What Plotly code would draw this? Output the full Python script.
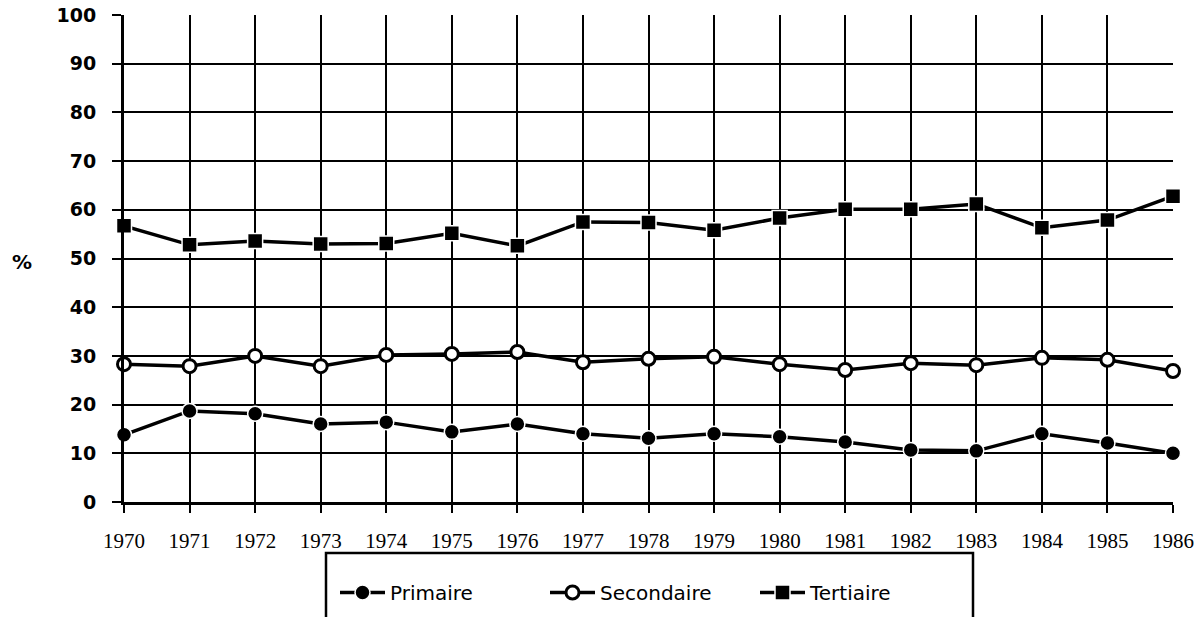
import plotly.graph_objects as go

years = list(range(1970, 1987))
primaire = [13.8, 18.7, 18.1, 16.0, 16.4, 14.4, 16.0, 14.0, 13.1, 14.0, 13.4, 12.3, 10.7, 10.5, 14.0, 12.1, 10.0]
secondaire = [28.3, 27.9, 30.0, 27.9, 30.2, 30.4, 30.8, 28.7, 29.4, 29.8, 28.3, 27.1, 28.5, 28.1, 29.6, 29.2, 26.9]
tertiaire = [56.7, 52.8, 53.6, 53.0, 53.1, 55.2, 52.6, 57.5, 57.4, 55.8, 58.3, 60.1, 60.1, 61.2, 56.3, 57.9, 62.8]
y_ticks = list(range(0, 101, 10))

W, H = 1204, 617
L, R, T, B = 124, 31, 15, 115
pw, ph = W - L - R, H - T - B

def px_x(p):
    return (p - L) / pw

def px_y(p):
    return (H - B - p) / ph

fig = go.Figure()
fig.add_trace(go.Scatter(
    x=years, y=primaire, name="Primaire", mode="lines+markers",
    line=dict(color="black", width=3.5),
    marker=dict(symbol="circle", size=15, color="black", line=dict(color="white", width=1.5)),
    cliponaxis=False))
fig.add_trace(go.Scatter(
    x=years, y=secondaire, name="Secondaire", mode="lines+markers",
    line=dict(color="black", width=3.5),
    marker=dict(symbol="circle", size=13, color="white", line=dict(color="black", width=3)),
    cliponaxis=False))
fig.add_trace(go.Scatter(
    x=years, y=tertiaire, name="Tertiaire", mode="lines+markers",
    line=dict(color="black", width=3.5),
    marker=dict(symbol="square", size=15, color="black", line=dict(color="white", width=1.5)),
    cliponaxis=False))

fig.update_layout(
    width=W, height=H,
    margin=dict(l=L, r=R, t=T, b=B, autoexpand=False),
    paper_bgcolor="white", plot_bgcolor="white",
    font=dict(family="DejaVu Sans, Arial, sans-serif", color="black", size=19),
    showlegend=True,
    legend=dict(
        orientation="h", x=px_x(335), y=px_y(573), xanchor="left", yanchor="top",
        font=dict(family="DejaVu Sans, Arial, sans-serif", size=20, color="black"),
        bgcolor="rgba(0,0,0,0)", borderwidth=0,
        entrywidth=150, entrywidthmode="pixels", itemwidth=45,
    ),
    xaxis=dict(
        range=[1970, 1986], tickmode="array", tickvals=years,
        ticktext=[str(y) for y in years],
        showgrid=True, gridcolor="black", gridwidth=2,
        showline=True, linecolor="black", linewidth=3, mirror=False,
        ticks="outside", ticklen=8, tickwidth=2, tickcolor="black",
        ticklabelstandoff=10,
        tickfont=dict(family="Liberation Serif, Times New Roman, serif", size=21, color="black"),
        zeroline=False, fixedrange=True,
    ),
    yaxis=dict(
        range=[0, 100], tickmode="array", tickvals=y_ticks,
        ticktext=[str(v) for v in y_ticks],
        showgrid=True, gridcolor="black", gridwidth=2,
        showline=True, linecolor="black", linewidth=3,
        ticks="outside", ticklen=9, tickwidth=2, tickcolor="black",
        ticklabelstandoff=12,
        tickfont=dict(family="DejaVu Sans, Arial, sans-serif", size=19, color="black", weight="bold"),
        zeroline=False, fixedrange=True,
    ),
    shapes=[
        dict(type="rect", xref="paper", yref="paper",
             x0=px_x(326), x1=px_x(973), y0=px_y(553), y1=px_y(640),
             line=dict(color="black", width=2.5), fillcolor="rgba(0,0,0,0)", layer="above"),
    ],
    annotations=[
        dict(text="%", xref="paper", yref="paper", x=px_x(22), y=px_y(262),
             showarrow=False, xanchor="center", yanchor="middle",
             font=dict(family="DejaVu Sans, Arial, sans-serif", size=20, color="black", weight="bold")),
    ],
)

fig.write_html(
    "out.html",
    config={"displayModeBar": False, "staticPlot": True},
    post_script="document.body.style.margin='0px';document.body.style.overflow='hidden';",
)
